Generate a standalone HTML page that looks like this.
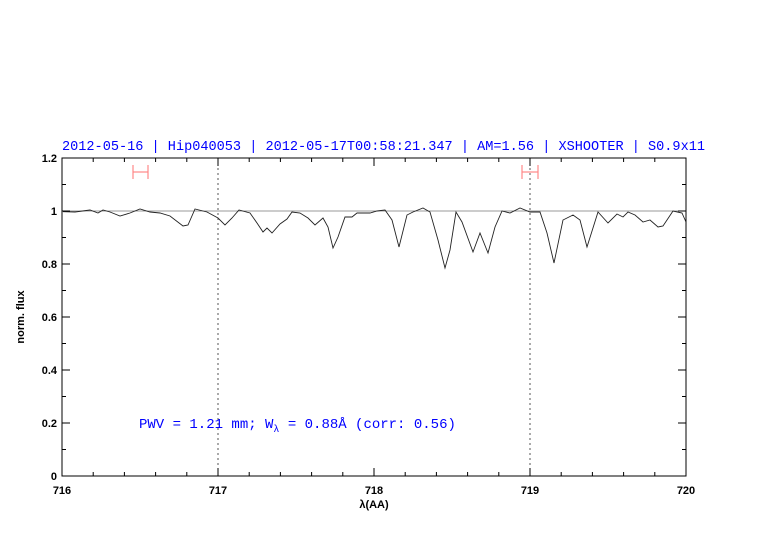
<!DOCTYPE html>
<html><head><meta charset="utf-8"><style>body{margin:0;background:#fff}svg{display:block}</style></head>
<body>
<svg width="782" height="542" xmlns="http://www.w3.org/2000/svg" font-family="Liberation Sans, sans-serif">
<rect width="782" height="542" fill="#fff"/>
<text x="62" y="150" font-family="Liberation Mono, monospace" font-size="14" fill="#0000ff" textLength="643" lengthAdjust="spacingAndGlyphs">2012-05-16 | Hip040053 | 2012-05-17T00:58:21.347 | AM=1.56 | XSHOOTER | S0.9x11</text>
<line x1="62" y1="211" x2="686" y2="211" stroke="#999" stroke-width="1"/>
<g stroke="#555" stroke-width="1" stroke-dasharray="2,3">
<line x1="218" y1="158" x2="218" y2="476"/><line x1="530" y1="158" x2="530" y2="476"/>
</g>
<g stroke="#f88" stroke-width="1.2">
<line x1="133" y1="172" x2="148" y2="172"/><line x1="133" y1="165" x2="133" y2="179"/><line x1="148" y1="165" x2="148" y2="179"/>
<line x1="522" y1="172" x2="538" y2="172"/><line x1="522" y1="165" x2="522" y2="179"/><line x1="538" y1="165" x2="538" y2="179"/>
</g>
<polyline fill="none" stroke="#222" stroke-width="0.9" points="63,211.7 75,212 90,210 98,213 103,210 110,212 120,216 130,213 140,209 150,212 160,213 170,216 183,226 188,225 195,209 207,212 218,218 225,225 232,218 239,210 250,213 257,223 263,232 267,228 272,233 280,224 287,219 292,212 300,213 308,218 315,225 323,218 328,227 333,248 338,237 345,217 352,217 357,213 370,213 377,211 385,210 392,220 399,247 407,215 413,212 423,208 430,212 438,240 445,268 450,250 456,212 462,222 473,252 480,233 488,253 495,227 502,211 510,213 520,208 530,212 540,212 547,233 554,263 563,220 573,215 580,220 587,247 598,212 608,223 617,214 623,217 628,212 635,215 643,222 650,220 658,227 663,226 673,211 682,213 686,222"/>
<rect x="62" y="158" width="624" height="318" fill="none" stroke="#000" stroke-width="1"/>
<g stroke="#000" stroke-width="1" id="t">
<path d="M93.2,476v-4M124.4,476v-4M155.6,476v-4M186.8,476v-4M218,476v-8M249.2,476v-4M280.4,476v-4M311.6,476v-4M342.8,476v-4M374,476v-8M405.2,476v-4M436.4,476v-4M467.6,476v-4M498.8,476v-4M530,476v-8M561.2,476v-4M592.4,476v-4M623.6,476v-4M654.8,476v-4"/>
<path d="M93.2,158v4M124.4,158v4M155.6,158v4M186.8,158v4M218,158v8M249.2,158v4M280.4,158v4M311.6,158v4M342.8,158v4M374,158v8M405.2,158v4M436.4,158v4M467.6,158v4M498.8,158v4M530,158v8M561.2,158v4M592.4,158v4M623.6,158v4M654.8,158v4"/>
<path d="M62,449.5h4M62,423h8M62,396.5h4M62,370h8M62,343.5h4M62,317h8M62,290.5h4M62,264h8M62,237.5h4M62,211h8M62,184.5h4"/>
<path d="M686,449.5h-4M686,423h-8M686,396.5h-4M686,370h-8M686,343.5h-4M686,317h-8M686,290.5h-4M686,264h-8M686,237.5h-4M686,211h-8M686,184.5h-4"/>
</g>
<g font-size="11" fill="#000" text-anchor="middle" font-weight="bold">
<text x="62" y="494">716</text><text x="218" y="494">717</text><text x="374" y="494">718</text><text x="530" y="494">719</text><text x="686" y="494">720</text>
<text x="374" y="508">λ(AA)</text>
</g>
<g font-size="11" fill="#000" text-anchor="end" font-weight="bold">
<text x="57" y="480">0</text><text x="57" y="427">0.2</text><text x="57" y="374">0.4</text><text x="57" y="321">0.6</text><text x="57" y="268">0.8</text><text x="57" y="215">1</text><text x="57" y="162">1.2</text>
</g>
<text transform="translate(24,317) rotate(-90)" font-size="11" font-weight="bold" text-anchor="middle">norm. flux</text>
<text x="139" y="428" font-family="Liberation Mono, monospace" font-size="14" fill="#0000ff">PWV = 1.21 mm; W<tspan font-size="10" dy="4">λ</tspan><tspan dy="-4"> = 0.88Å (corr: 0.56)</tspan></text>
</svg>
</body></html>
